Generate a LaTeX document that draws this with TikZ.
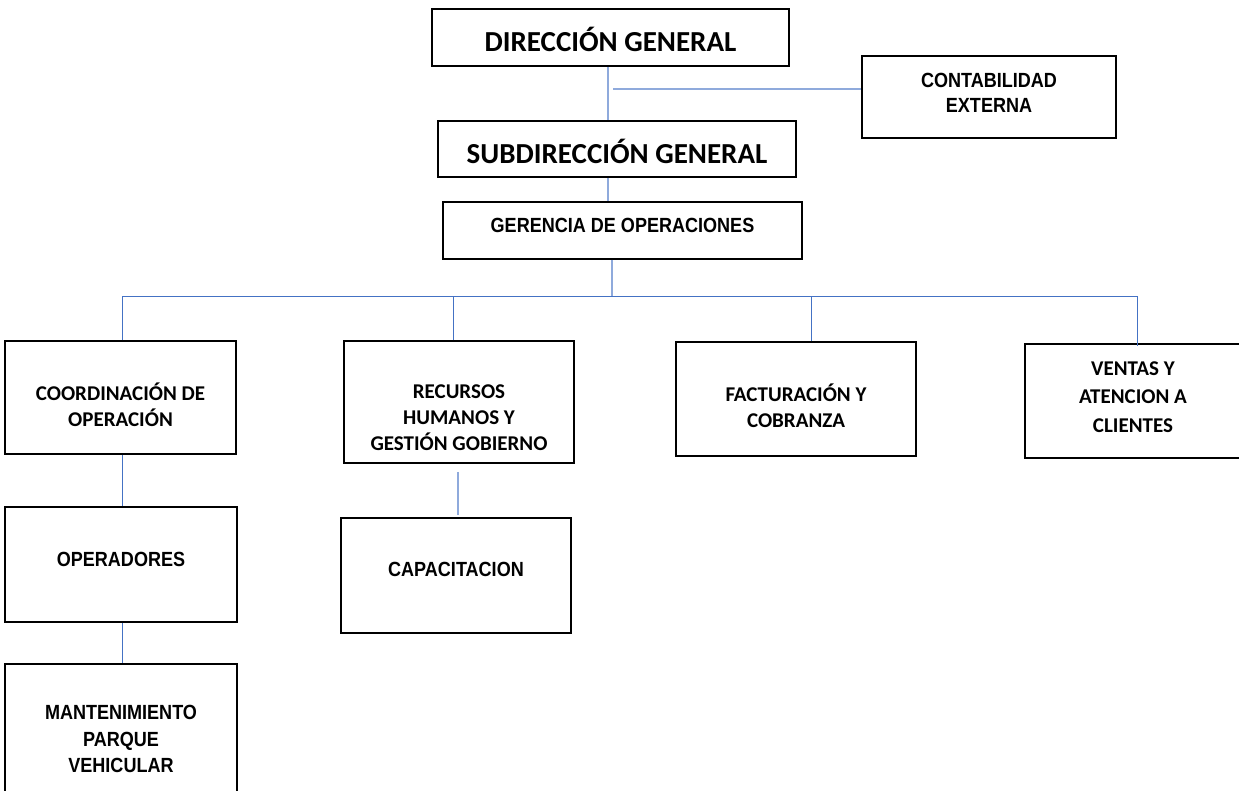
\documentclass[tikz,border=0pt]{standalone}
\usepackage{fontspec}
\setmainfont{Carlito}
\newfontfamily\arialn[FakeStretch=0.88]{Liberation Sans}
\definecolor{linkblue}{HTML}{4472C4}
\definecolor{softblue}{HTML}{8FAADC}

\begin{document}
\begin{tikzpicture}[
    x=1pt, y=-1pt,
    box/.style={draw, line width=1.8pt, inner sep=0pt},
    big/.style={font=\bfseries\fontsize{29}{34}\selectfont, inner sep=0pt},
    small/.style={align=center, font=\bfseries\fontsize{21}{26}\selectfont, inner sep=0pt},
    narrow/.style={align=center, font=\arialn\bfseries\fontsize{20.5}{25}\selectfont, inner sep=0pt},
    link/.style={draw=linkblue, line width=1pt},
    softlink/.style={draw=softblue, line width=1.8pt}
  ]
  \useasboundingbox (0,0) rectangle (1239,791);

  % Top of the chart
  \node[box, minimum width=357pt, minimum height=57pt,
    label={[big, yshift=-2pt]center:DIRECCIÓN GENERAL}] (dir) at (610.5,37.5) {};
  \node[box, minimum width=254pt, minimum height=82pt,
    label={[narrow, yshift=4pt]center:CONTABILIDAD\\EXTERNA}] (conta) at (989,97) {};
  \node[box, minimum width=358pt, minimum height=56pt,
    label={[big, yshift=-2pt]center:SUBDIRECCIÓN GENERAL}] (sub) at (617,149) {};
  \node[box, minimum width=359pt, minimum height=57pt,
    label={[narrow, yshift=5pt]center:GERENCIA DE OPERACIONES}] (ger) at (622.5,230.5) {};

  % Areas under the gerencia
  \node[box, minimum width=231pt, minimum height=113pt,
    label={[small, yshift=-7pt]center:COORDINACIÓN DE\\OPERACIÓN}] (coord) at (120.5,397.5) {};
  \node[box, minimum width=230pt, minimum height=122pt,
    label={[small, yshift=-16pt]center:RECURSOS\\HUMANOS Y\\GESTIÓN GOBIERNO}] (rh) at (459,402) {};
  \node[box, minimum width=240pt, minimum height=114pt,
    label={[small, yshift=-7pt]center:FACTURACIÓN Y\\COBRANZA}] (fac) at (796,399) {};
  \node[box, minimum width=216pt, minimum height=114pt,
    label={[small, yshift=4pt, font=\bfseries\fontsize{21}{28.5}\selectfont]center:VENTAS Y\\ATENCION A\\CLIENTES}] (ven) at (1133,401) {};

  % Lower level
  \node[box, minimum width=232pt, minimum height=115pt,
    label={[narrow, yshift=5.5pt]center:OPERADORES}] (ope) at (121,564.5) {};
  \node[box, minimum width=230pt, minimum height=115pt,
    label={[narrow, yshift=6pt]center:CAPACITACION}] (cap) at (456,575.5) {};
  \node[box, minimum width=232pt, minimum height=136pt,
    label={[narrow, yshift=-7pt, font=\arialn\bfseries\fontsize{20.5}{26.5}\selectfont]center:MANTENIMIENTO\\PARQUE\\VEHICULAR}] (man) at (121,732) {};

  % Connectors
  \coordinate (spine) at (608,89);
  \coordinate (bus) at (612,297);
  \draw[softlink] (dir.south -| spine) -- (sub.north -| spine);
  \draw[softlink] ([xshift=5pt]spine) -- (spine -| conta.west);
  \draw[softlink] (sub.south -| spine) -- (ger.north -| spine);
  \draw[softlink] (ger.south -| bus) -- (bus);
  \draw[link] ([xshift=1.5pt]coord.north) |- ([xshift=4pt]ven.north |- bus) -- ([yshift=-3pt, xshift=4pt]ven.north);
  \draw[link] ([xshift=-6pt]rh.north) -- ([xshift=-6pt]rh.north |- bus);
  \draw[link] ([xshift=15pt]fac.north) -- ([xshift=15pt]fac.north |- bus);
  \draw[link] ([xshift=1.5pt]coord.south) -- ([xshift=1pt]ope.north);
  \draw[link] ([xshift=1pt]ope.south) -- ([xshift=1pt]man.north);
  \draw[softlink] ([shift={(-1pt,-8pt)}]rh.south) -- ([shift={(2pt,2pt)}]cap.north);

\end{tikzpicture}
\end{document}
